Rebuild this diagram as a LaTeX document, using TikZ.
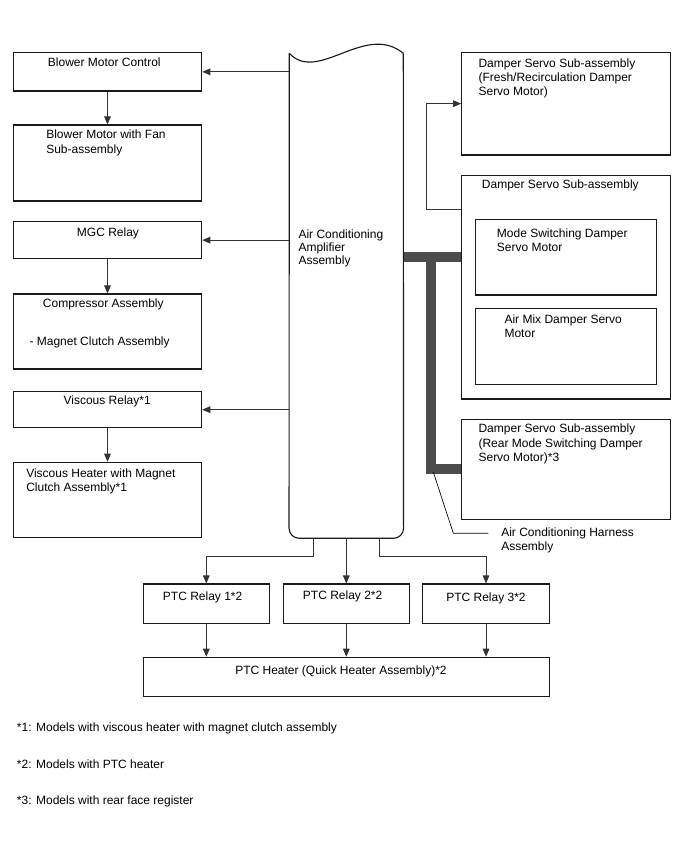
\documentclass[tikz,border=0pt]{standalone}
\usepackage{fontspec}
\setmainfont{Liberation Sans}
\usepackage{tikz}
\usetikzlibrary{arrows.meta, fit}
\tikzset{
  box/.style     ={rectangle, draw=black!90, line width=0.85pt, inner sep=0pt},
  txt/.style     ={anchor=north west, inner sep=0pt, align=left, text=black,
                   font=\fontsize{9}{10.7}\selectfont},
  ar/.style      ={-{Triangle[length=6pt, width=5pt]}, line width=0.6pt, black!80},
  ampline/.style ={line width=0.85pt, black!90},
  harness/.style ={line width=7.5pt, black!70, line join=miter},
  lead/.style    ={line width=0.5pt, black}
}

\begin{document}
\begin{tikzpicture}[x=0.75pt, y=-0.75pt]
\useasboundingbox (0,0) rectangle (688,852);

% amplifier (wavy top, rounded bottom)
\coordinate (amptl) at (289.3,53.3);
\coordinate (amptr) at (403.3,53.3);
\node[inner sep=0pt, fit={(amptl) (403.3,538)}] (amp) {};
\draw[ampline, rounded corners=7.5pt] (amptl) -- (amp.south west) -- (amp.south east) -- (amptr);
\draw[ampline] (amptl) .. controls (318,84) and (365,22) .. (amptr);
\node[txt, font=\fontsize{9}{9.4}\selectfont] (amptxt) at (298.3,230)
      {Air Conditioning\\Amplifier\\Assembly};

% left column
\node[box, fit={(13.3,52.7) (201.7,91)}] (bmc) {};
\node[box, fit={(13.3,125) (201.7,201)}] (bmf) {};
\node[box, fit={(13.3,221.5) (201.7,258.8)}] (mgc) {};
\node[box, fit={(13.3,294) (201.7,369)}] (comp) {};
\node[box, fit={(13.3,391.7) (201.7,427.7)}] (visr) {};
\node[box, fit={(13.3,462.3) (201.7,537.7)}] (vish) {};

\node[txt] (bmctxt) at (47.7,57.3) {Blower Motor Control};
\node[txt] (bmftxt) at (46,130) {Blower Motor with Fan\\Sub-assembly};
\node[txt] (mgctxt) at (76.7,227.7) {MGC Relay};
\node[txt] (comptxt) at (42.7,299) {Compressor Assembly};
\node[txt] (clutchtxt) at (29.3,337) {- Magnet Clutch Assembly};
\node[txt] (visrtxt) at (63.3,396) {Viscous Relay*1};
\node[txt] (vishtxt) at (26,468.3) {Viscous Heater with Magnet\\Clutch Assembly*1};

\draw[ar] (amp.west |- bmc.east) -- (bmc.east);
\draw[ar] (amp.west |- mgc.east) -- (mgc.east);
\draw[ar] (amp.west |- visr.east) -- (visr.east);
\draw[ar] (bmc) -- (bmf);
\draw[ar] (mgc) -- (comp);
\draw[ar] (visr) -- (vish);

% right column
\node[box, fit={(461.7,52.3) (670.7,155)}] (fresh) {};
\node[box, fit={(461.7,175.3) (670.7,399)}] (dsa) {};
\node[box, fit={(475.7,219.3) (656.7,295)}] (mode) {};
\node[box, fit={(475.7,308.3) (656.7,384.3)}] (airmix) {};
\node[box, fit={(461.7,419.3) (670.7,519.3)}] (rear) {};

\node[txt] (freshtxt) at (478.3,58.3)
      {Damper Servo Sub-assembly\\(Fresh/Recirculation Damper\\Servo Motor)};
\node[txt] (dsatxt) at (481.7,180) {Damper Servo Sub-assembly};
\node[txt] (modetxt) at (496.7,228.3) {Mode Switching Damper\\Servo Motor};
\node[txt] (airmixtxt) at (504.3,314.3) {Air Mix Damper Servo\\Motor};
\node[txt] (reartxt) at (478.3,424)
      {Damper Servo Sub-assembly\\(Rear Mode Switching Damper\\Servo Motor)*3};

\draw[ar] ([yshift=-26pt]dsa.north west) -- ++(-34.4,0) |- (fresh.west);

% harness bar
\coordinate (hj) at (430.5,257.2);
\coordinate (hb) at (430.5,468.7);
\draw[harness] (amp.east |- hj) -- (dsa.west |- hj);
\draw[harness] (hj) -- (hb) -- (rear.west |- hb);

\node[txt] (hlbl) at (501,527.3) {Air Conditioning Harness\\Assembly};
\coordinate (hl) at (433.3,472);
\coordinate (hk) at (453.3,533.3);
\draw[lead] (hl) -- (hk) -- ([xshift=-9.5pt]hk -| hlbl.west);

% PTC relays and heater
\node[box, fit={(143.3,584) (269.3,623.5)}] (ptc1) {};
\node[box, fit={(283.3,584) (409.3,623.5)}] (ptc2) {};
\node[box, fit={(422.7,584) (549.3,623.5)}] (ptc3) {};
\node[box, fit={(143.3,657.3) (549.3,696.3)}] (heater) {};

\node[txt] (ptc1txt) at (162.7,592) {PTC Relay 1*2};
\node[txt] (ptc2txt) at (302.7,590.7) {PTC Relay 2*2};
\node[txt] (ptc3txt) at (446,593) {PTC Relay 3*2};
\node[txt] (heatertxt) at (235,665.3) {PTC Heater (Quick Heater Assembly)*2};

\draw[ar] ([xshift=-25pt]amp.south) -- ++(0,18) -| (ptc1.north);
\draw[ar] (amp.south) -- (amp.south |- ptc2.north);
\draw[ar] ([xshift=25pt]amp.south) -- ++(0,18) -| (ptc3.north);
\draw[ar] (ptc1.south) -- (ptc1.south |- heater.north);
\draw[ar] (ptc2.south) -- (ptc2.south |- heater.north);
\draw[ar] (ptc3.south) -- (ptc3.south |- heater.north);

% notes
\node[txt] (note1) at (16.7,722.7) {*1: Models with viscous heater with magnet clutch assembly};
\node[txt] (note2) at (16.7,759.3) {*2: Models with PTC heater};
\node[txt] (note3) at (16.7,796) {*3: Models with rear face register};

\end{tikzpicture}
\end{document}
